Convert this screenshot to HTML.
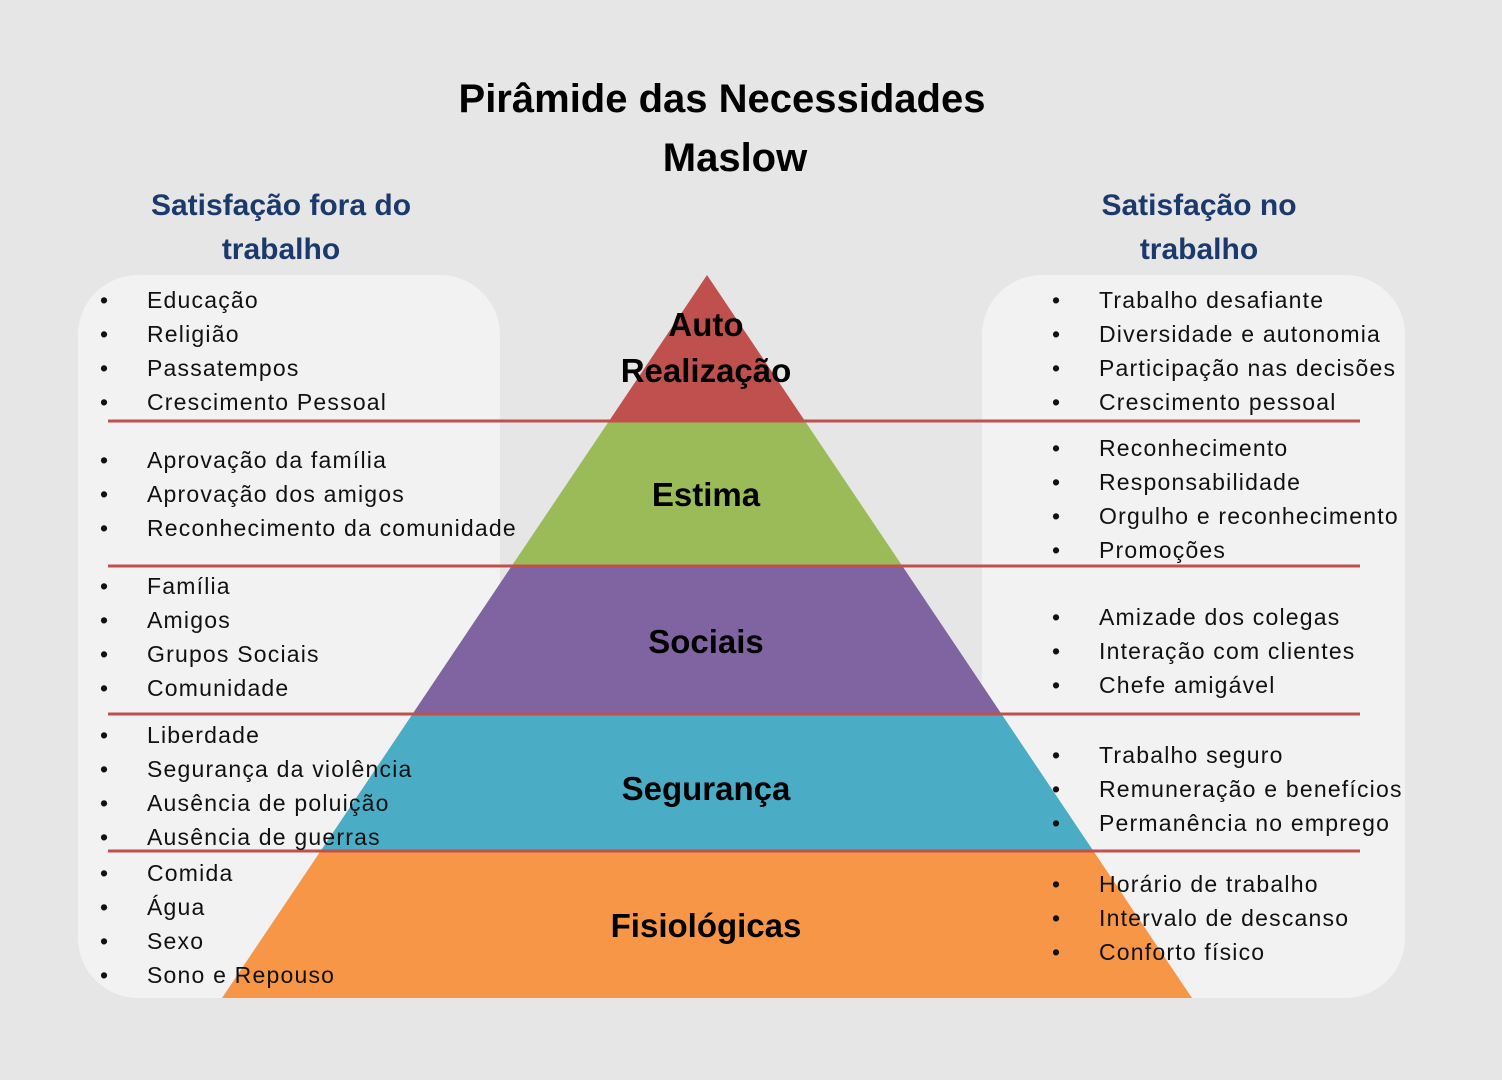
<!DOCTYPE html>
<html><head><meta charset="utf-8"><style>
html,body{margin:0;padding:0;background:#e6e6e6;}
svg{display:block;}
text{font-family:"Liberation Sans",sans-serif;}
.li{font-size:23px;fill:#111;letter-spacing:1.2px;}
.b{font-size:23px;fill:#111;}
.lab{font-size:33px;font-weight:bold;fill:#000;text-anchor:middle;}
.hd{font-size:30px;font-weight:bold;fill:#1b3a6b;text-anchor:middle;}
</style></head><body>
<svg width="1502" height="1080" viewBox="0 0 1502 1080" xmlns="http://www.w3.org/2000/svg">
<rect width="1502" height="1080" fill="#e6e6e6"/>
<rect x="78" y="275" width="422" height="723" rx="60" fill="#f2f2f2"/>
<rect x="982" y="275" width="423" height="723" rx="60" fill="#f2f2f2"/>
<polygon points="707,275 805.6,422 608.4,422" fill="#c0504d"/>
<polygon points="608.4,422 805.6,422 903,567 511,567" fill="#9bbb59"/>
<polygon points="511,567 903,567 1001.5,714 412.5,714" fill="#8064a2"/>
<polygon points="412.5,714 1001.5,714 1093.4,851 320.6,851" fill="#4bacc6"/>
<polygon points="320.6,851 1093.4,851 1192,998 222,998" fill="#f79646"/>
<g stroke="#c0504d" stroke-width="3">
<line x1="108" y1="421" x2="1360" y2="421"/>
<line x1="108" y1="566" x2="1360" y2="566"/>
<line x1="108" y1="714" x2="1360" y2="714"/>
<line x1="108" y1="851" x2="1360" y2="851"/>
</g>
<text x="722" y="112" style="font-size:40px;font-weight:bold;text-anchor:middle;fill:#000">Pirâmide das Necessidades</text>
<text x="735" y="171" style="font-size:40px;font-weight:bold;text-anchor:middle;fill:#000">Maslow</text>
<text class="hd" x="281" y="215">Satisfação fora do</text>
<text class="hd" x="281" y="259">trabalho</text>
<text class="hd" x="1199" y="215">Satisfação no</text>
<text class="hd" x="1199" y="259">trabalho</text>
<text class="lab" x="706" y="336">Auto</text>
<text class="lab" x="706" y="382">Realização</text>
<text class="lab" x="706" y="506">Estima</text>
<text class="lab" x="706" y="653">Sociais</text>
<text class="lab" x="706" y="800">Segurança</text>
<text class="lab" x="706" y="937">Fisiológicas</text>
<g class="li">
<text x="147" y="308">Educação</text><text x="147" y="342">Religião</text><text x="147" y="376">Passatempos</text><text x="147" y="410">Crescimento Pessoal</text>
<text x="147" y="468">Aprovação da família</text><text x="147" y="502">Aprovação dos amigos</text><text x="147" y="536">Reconhecimento da comunidade</text>
<text x="147" y="594">Família</text><text x="147" y="628">Amigos</text><text x="147" y="662">Grupos Sociais</text><text x="147" y="696">Comunidade</text>
<text x="147" y="743">Liberdade</text><text x="147" y="777">Segurança da violência</text><text x="147" y="811">Ausência de poluição</text><text x="147" y="845">Ausência de guerras</text>
<text x="147" y="881">Comida</text><text x="147" y="915">Água</text><text x="147" y="949">Sexo</text><text x="147" y="983">Sono e Repouso</text>
<text x="1099" y="308">Trabalho desafiante</text><text x="1099" y="342">Diversidade e autonomia</text><text x="1099" y="376">Participação nas decisões</text><text x="1099" y="410">Crescimento pessoal</text>
<text x="1099" y="456">Reconhecimento</text><text x="1099" y="490">Responsabilidade</text><text x="1099" y="524">Orgulho e reconhecimento</text><text x="1099" y="558">Promoções</text>
<text x="1099" y="625">Amizade dos colegas</text><text x="1099" y="659">Interação com clientes</text><text x="1099" y="693">Chefe amigável</text>
<text x="1099" y="763">Trabalho seguro</text><text x="1099" y="797">Remuneração e benefícios</text><text x="1099" y="831">Permanência no emprego</text>
<text x="1099" y="892">Horário de trabalho</text><text x="1099" y="926">Intervalo de descanso</text><text x="1099" y="960">Conforto físico</text>
</g>
<g class="b">
<text x="100" y="308">•</text><text x="100" y="342">•</text><text x="100" y="376">•</text><text x="100" y="410">•</text>
<text x="100" y="468">•</text><text x="100" y="502">•</text><text x="100" y="536">•</text>
<text x="100" y="594">•</text><text x="100" y="628">•</text><text x="100" y="662">•</text><text x="100" y="696">•</text>
<text x="100" y="743">•</text><text x="100" y="777">•</text><text x="100" y="811">•</text><text x="100" y="845">•</text>
<text x="100" y="881">•</text><text x="100" y="915">•</text><text x="100" y="949">•</text><text x="100" y="983">•</text>
<text x="1052" y="308">•</text><text x="1052" y="342">•</text><text x="1052" y="376">•</text><text x="1052" y="410">•</text>
<text x="1052" y="456">•</text><text x="1052" y="490">•</text><text x="1052" y="524">•</text><text x="1052" y="558">•</text>
<text x="1052" y="625">•</text><text x="1052" y="659">•</text><text x="1052" y="693">•</text>
<text x="1052" y="763">•</text><text x="1052" y="797">•</text><text x="1052" y="831">•</text>
<text x="1052" y="892">•</text><text x="1052" y="926">•</text><text x="1052" y="960">•</text>
</g>
</svg>
</body></html>
